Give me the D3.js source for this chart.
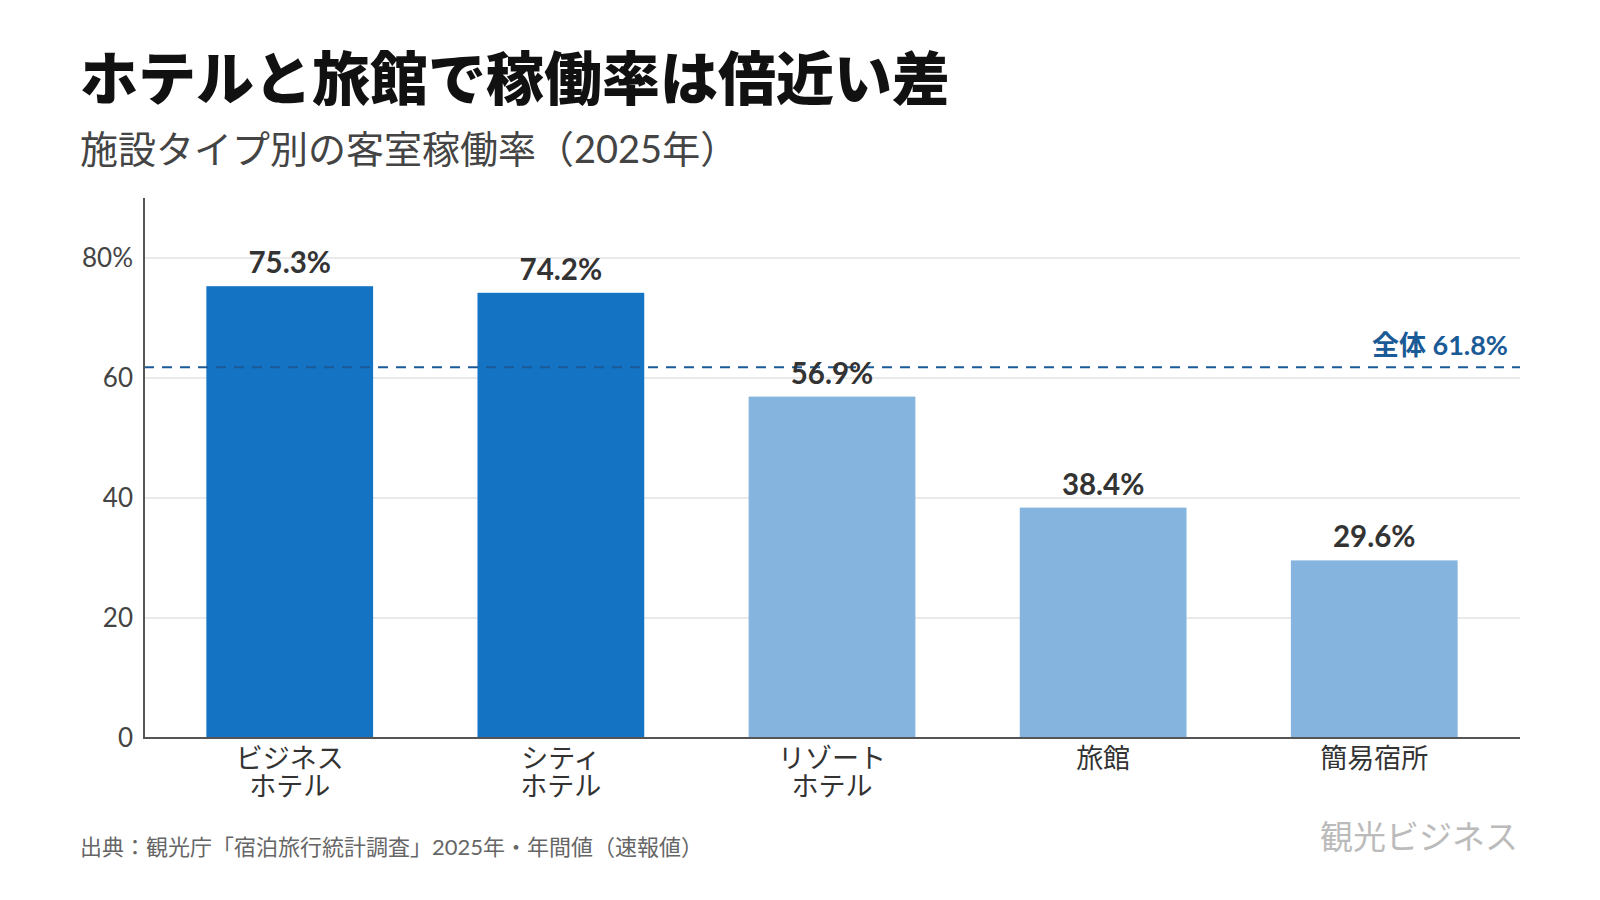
<!DOCTYPE html>
<html lang="ja">
<head>
    <meta charset="UTF-8">
    <title>ホテルと旅館で稼働率は倍近い差</title>
    <script src="https://d3js.org/d3.v7.min.js"></script>
    <style>
        body {
            margin: 0;
            background: #ffffff;
        }
        svg text {
            font-family: Lato, 'Noto Sans CJK JP', sans-serif;
        }
    </style>
</head>
<body>
    <div id="chart"></div>

    <script>
        // data
        const categories = ["ビジネス\nホテル", "シティ\nホテル", "リゾート\nホテル", "旅館", "簡易宿所"];
        const rates = [75.3, 74.2, 56.9, 38.4, 29.6];
        const highlight = [true, true, false, false, false];
        const overall = 61.8;
        const yTicks = [0, 20, 40, 60, 80];

        const width = 1600;
        const height = 900;
        const margin = { top: 198, right: 80, bottom: 162, left: 144 };

        const svg = d3.select("#chart")
            .append("svg")
            .attr("width", width)
            .attr("height", height);

        // title + subtitle
        svg.append("text")
            .attr("x", 80)
            .attr("y", 100)
            .style("font-family", "'Noto Sans CJK JP', sans-serif")
            .style("font-size", "58px")
            .style("font-weight", 900)
            .attr("fill", "#111")
            .text("ホテルと旅館で稼働率は倍近い差");

        svg.append("text")
            .attr("x", 80)
            .attr("y", 163)
            .style("font-size", "38px")
            .attr("fill", "#444")
            .text("施設タイプ別の客室稼働率（2025年）");

        const x = d3.scaleBand()
            .domain(categories)
            .range([margin.left, width - margin.right])
            .paddingInner(0.385)
            .paddingOuter(0.23);

        const y = d3.scaleLinear()
            .domain([0, 90])
            .range([height - margin.bottom, margin.top]);

        // grid lines
        svg.append("g")
            .selectAll("line")
            .data(yTicks.filter(d => d > 0))
            .enter()
            .append("line")
            .attr("x1", margin.left)
            .attr("x2", width - margin.right)
            .attr("y1", d => y(d))
            .attr("y2", d => y(d))
            .attr("stroke", "#e3e3e3")
            .attr("stroke-width", 1.5);

        // y tick labels
        svg.append("g")
            .selectAll("text")
            .data(yTicks)
            .enter()
            .append("text")
            .attr("x", margin.left - 11)
            .attr("y", d => y(d))
            .attr("dy", "0.35em")
            .attr("text-anchor", "end")
            .style("font-size", "26px")
            .attr("fill", "#444")
            .text(d => d === 80 ? "80%" : d);

        // bars
        svg.append("g")
            .selectAll("rect")
            .data(rates)
            .enter()
            .append("rect")
            .attr("x", (d, i) => x(categories[i]))
            .attr("y", d => y(d))
            .attr("width", x.bandwidth())
            .attr("height", d => y(0) - y(d))
            .attr("fill", (d, i) => highlight[i] ? "#1473c2" : "#85b5de");

        // overall average line
        svg.append("line")
            .attr("x1", margin.left)
            .attr("x2", width - margin.right)
            .attr("y1", y(overall))
            .attr("y2", y(overall))
            .attr("stroke", "#1a5a96")
            .attr("stroke-width", 2)
            .attr("stroke-dasharray", "10,8");

        svg.append("text")
            .attr("x", width - margin.right - 12)
            .attr("y", y(overall) - 12)
            .attr("text-anchor", "end")
            .style("font-size", "27px")
            .style("font-weight", 700)
            .attr("fill", "#1a5a96")
            .text(`全体 ${overall}%`);

        // value labels
        svg.append("g")
            .selectAll("text")
            .data(rates)
            .enter()
            .append("text")
            .attr("x", (d, i) => x(categories[i]) + x.bandwidth() / 2)
            .attr("y", d => y(d) - 13)
            .attr("text-anchor", "middle")
            .style("font-size", "29.5px")
            .style("font-weight", 700)
            .attr("fill", "#333")
            .text(d => d.toFixed(1) + "%");

        // axes lines
        svg.append("line")
            .attr("x1", margin.left)
            .attr("x2", margin.left)
            .attr("y1", margin.top)
            .attr("y2", y(0))
            .attr("stroke", "#555")
            .attr("stroke-width", 2);

        svg.append("line")
            .attr("x1", margin.left - 1)
            .attr("x2", width - margin.right)
            .attr("y1", y(0))
            .attr("y2", y(0))
            .attr("stroke", "#555")
            .attr("stroke-width", 2);

        // category labels
        const catLabels = svg.append("g")
            .selectAll("text")
            .data(categories)
            .enter()
            .append("text")
            .attr("x", d => x(d) + x.bandwidth() / 2)
            .attr("y", y(0) + 30)
            .attr("text-anchor", "middle")
            .style("font-size", "27px")
            .attr("fill", "#333");

        catLabels.selectAll("tspan")
            .data(d => d.split("\n"))
            .enter()
            .append("tspan")
            .attr("x", function() { return d3.select(this.parentNode).attr("x"); })
            .attr("dy", (d, i) => i === 0 ? 0 : 28)
            .text(d => d);

        // source + logo
        svg.append("text")
            .attr("x", 80)
            .attr("y", 855)
            .style("font-size", "22px")
            .attr("fill", "#666")
            .text("出典：観光庁「宿泊旅行統計調査」2025年・年間値（速報値）");

        svg.append("text")
            .attr("x", 1518)
            .attr("y", 849)
            .attr("text-anchor", "end")
            .style("font-family", "'Noto Sans CJK JP', sans-serif")
            .style("font-size", "33px")
            .attr("fill", "#bbb")
            .text("観光ビジネス");
    </script>
</body>
</html>
